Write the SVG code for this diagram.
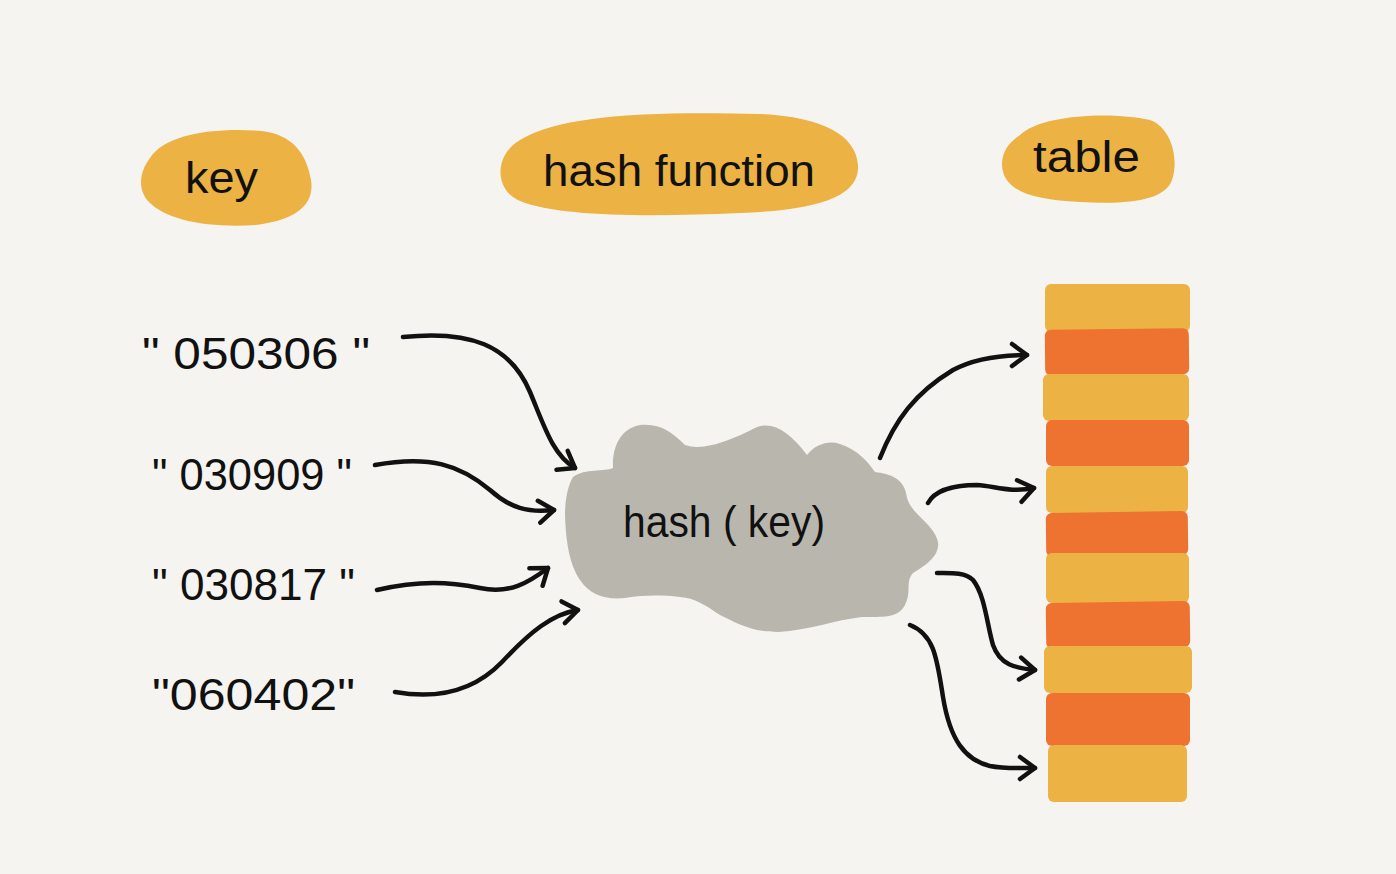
<svg xmlns="http://www.w3.org/2000/svg" width="1396" height="874" viewBox="0 0 1396 874">
<defs>
<style>
.bg{fill:#f5f4f0}
.pill{fill:#ecb244}
.yel{fill:#ecb244}
.org{fill:#ee7230}
.cloud{fill:#b9b7ad}
.lbl{font-family:"Liberation Sans","Noto Sans",sans-serif;fill:#111;font-size:44px}
.key{font-family:"Liberation Sans","Noto Sans",sans-serif;fill:#111;font-size:44px}
.arr{fill:none;stroke:#111;stroke-width:4.5;stroke-linecap:round;stroke-linejoin:round;marker-end:url(#ah)}
</style>
<marker id="ah" markerUnits="userSpaceOnUse" markerWidth="40" markerHeight="40" viewBox="-20 -20 40 40" refX="0" refY="0" orient="auto">
<path d="M-15,-11 L0,0 L-15,11" fill="none" stroke="#111" stroke-width="4.5" stroke-linecap="round" stroke-linejoin="round"/>
</marker>
</defs>
<rect class="bg" x="0" y="0" width="1396" height="874"/>

<g id="header-key">
<path class="pill" d="M150,158 C165,134 215,127 262,131 C292,135 306,152 311,180 C315,205 296,220 256,225 C210,228 166,221 148,201 C137,188 140,171 150,158 Z"/>
<text class="lbl" x="185" y="193" textLength="73" lengthAdjust="spacingAndGlyphs">key</text>
</g>
<g id="header-hash-function">
<path class="pill" d="M520,140 C560,115 650,111 760,114 C822,117 856,135 858,165 C860,196 820,210 740,213 C650,217 560,217 520,201 C494,190 494,155 520,140 Z"/>
<text class="lbl" x="543" y="186" textLength="272" lengthAdjust="spacingAndGlyphs">hash function</text>
</g>
<g id="header-table">
<path class="pill" d="M1020,135 C1040,115 1110,111 1150,120 C1172,128 1179,160 1172,180 C1165,200 1130,205 1080,202 C1030,200 1003,190 1002,165 C1002,150 1010,142 1020,135 Z"/>
<text class="lbl" x="1033" y="172" textLength="107" lengthAdjust="spacingAndGlyphs">table</text>
</g>

<g id="key-050306"><text class="key" x="142" y="369" textLength="228" lengthAdjust="spacingAndGlyphs">" 050306 "</text></g>
<g id="key-030909"><text class="key" x="152" y="490" textLength="200" lengthAdjust="spacingAndGlyphs">" 030909 "</text></g>
<g id="key-030817"><text class="key" x="152" y="600" textLength="203" lengthAdjust="spacingAndGlyphs">" 030817 "</text></g>
<g id="key-060402"><text class="key" x="152" y="710" textLength="203" lengthAdjust="spacingAndGlyphs">"060402"</text></g>

<g id="hash-cloud">
<path class="cloud" d="M573,477 C585,468 605,472 613,468 C612,445 622,428 640,425 C660,423 672,432 685,445 C705,452 735,438 755,428 C772,420 790,432 807,455 C815,445 828,440 840,444 C858,450 868,462 875,472 C890,474 905,478 907,498 C912,515 935,525 938,542 C940,556 925,566 913,573 C905,582 912,592 905,605 C898,618 885,617 862,617 C835,620 810,630 778,632 C750,632 735,622 720,615 C705,605 695,598 680,597 C660,595 645,595 625,598 C605,600 590,595 580,580 C570,565 566,545 565,515 C565,500 568,485 573,477 Z"/>
<text class="lbl" x="623" y="537" textLength="202" lengthAdjust="spacingAndGlyphs">hash ( key)</text>
</g>

<g id="table">
<rect class="yel" x="1045" y="284" width="145" height="48" rx="6"/>
<rect class="org" x="1045" y="329" width="144" height="46" rx="6" transform="rotate(-0.6 1117 352)"/>
<rect class="yel" x="1043" y="374" width="146" height="47" rx="6"/>
<rect class="org" x="1046" y="420" width="143" height="46" rx="6"/>
<rect class="yel" x="1046" y="466" width="142" height="47" rx="6"/>
<rect class="org" x="1046" y="512" width="142" height="44" rx="6" transform="rotate(-0.8 1117 534)"/>
<rect class="yel" x="1046" y="553" width="143" height="50" rx="6"/>
<rect class="org" x="1046" y="602" width="144" height="46" rx="6" transform="rotate(-0.8 1118 625)"/>
<rect class="yel" x="1044" y="646" width="148" height="47" rx="6"/>
<rect class="org" x="1046" y="693" width="144" height="53" rx="6"/>
<rect class="yel" x="1048" y="745" width="139" height="57" rx="6"/>
</g>

<g id="connectors">
<path class="arr" d="M403,337 C470,330 510,345 530,392 C545,428 553,455 575,468"/>
<path class="arr" d="M375,465 C430,455 460,465 490,490 C510,508 528,513 554,510"/>
<path class="arr" d="M377,590 C420,580 450,582 480,588 C510,594 528,583 548,568"/>
<path class="arr" d="M395,692 C440,700 475,690 502,662 C530,632 552,614 578,610"/>
<path class="arr" d="M880,458 C895,420 915,393 953,370 C975,358 1000,355 1027,355"/>
<path class="arr" d="M928,503 C935,490 955,485 977,485 C995,486 1010,493 1034,488"/>
<path class="arr" d="M937,573 C950,573 965,572 973,580 C985,595 987,625 993,645 C1000,665 1015,668 1035,670"/>
<path class="arr" d="M910,625 C935,635 937,660 943,697 C950,740 965,760 990,766 C1005,769 1020,768 1035,768"/>
</g>
</svg>
